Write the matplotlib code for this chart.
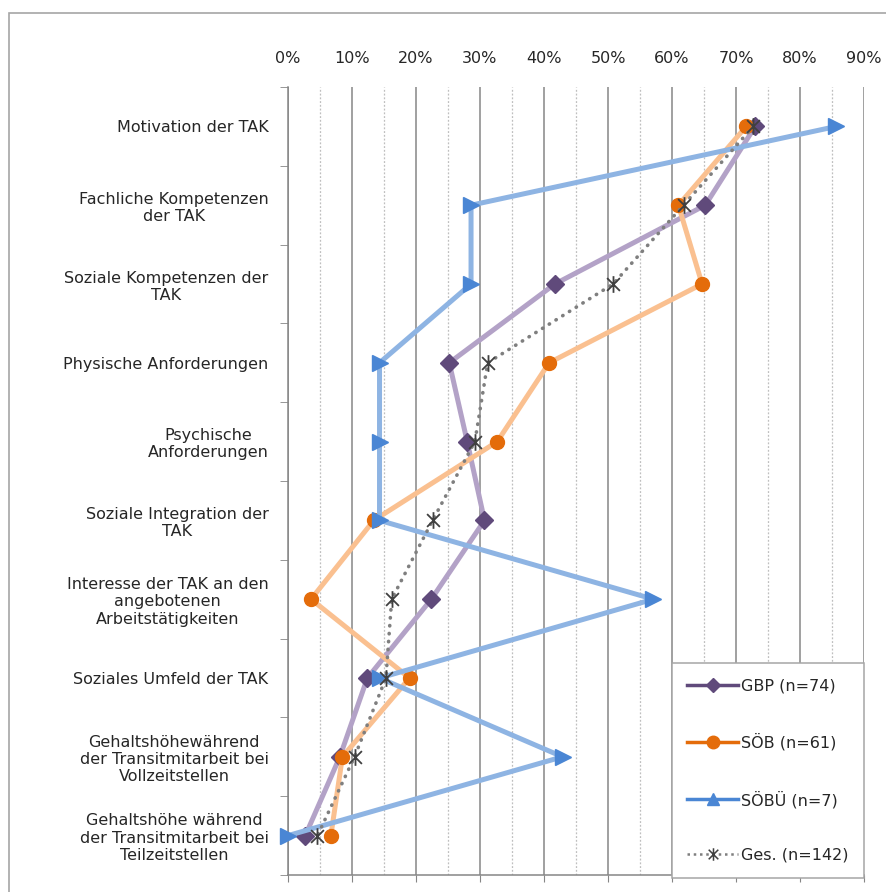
import matplotlib.pyplot as plt
from matplotlib.lines import Line2D
from matplotlib.patches import Rectangle
from matplotlib.path import Path

plt.rcParams['font.family'] = ['DejaVu Sans']

categories = ['Motivation der TAK',
              'Fachliche Kompetenzen\nder TAK',
              'Soziale Kompetenzen der\nTAK',
              'Physische Anforderungen',
              'Psychische\nAnforderungen',
              'Soziale Integration der\nTAK',
              'Interesse der TAK an den\nangebotenen\nArbeitstätigkeiten',
              'Soziales Umfeld der TAK',
              'Gehaltshöhewährend\nder Transitmitarbeit bei\nVollzeitstellen',
              'Gehaltshöhe während\nder Transitmitarbeit bei\nTeilzeitstellen']

# Anteile in %
gbp = [73.0, 65.2, 41.7, 25.2, 28.0, 30.7, 22.4, 12.4, 8.1, 2.7]
soeb = [71.6, 61.0, 64.7, 40.8, 32.7, 13.4, 3.6, 19.0, 8.5, 6.7]
soebue = [85.7, 28.6, 28.6, 14.3, 14.3, 14.3, 57.1, 14.3, 42.9, 0.0]
ges = [72.7, 61.8, 50.8, 31.2, 29.2, 22.6, 16.2, 15.3, 10.4, 4.6]

series_labels = ['GBP (n=74)', 'SÖB (n=61)', 'SÖBÜ (n=7)', 'Ges. (n=142)']
x_ticks = [0, 10, 20, 30, 40, 50, 60, 70, 80, 90]

# Excel-Stern: X + senkrechter Strich
star = Path([(-1, -1), (1, 1), (-1, 1), (1, -1), (0, -1.3), (0, 1.3)],
            [Path.MOVETO, Path.LINETO, Path.MOVETO, Path.LINETO, Path.MOVETO, Path.LINETO])

fig = plt.figure(figsize=(8.87, 8.92), dpi=100)
ax = fig.add_axes([288/887, 1-875/892, 576/887, 788/892])

pos = list(range(len(categories)))
txt_col = '#262626'

# Linien (hell) + Marker (dunkel)
ax.plot(gbp, pos, color='#B3A2C7', lw=3.6, marker='D', ms=9.5,
        mfc='#604A7B', mec='#604A7B', clip_on=False, zorder=3)
ax.plot(soeb, pos, color='#FAC090', lw=3.6, marker='o', ms=10,
        mfc='#E46C0A', mec='#E46C0A', clip_on=False, zorder=4)
ax.plot(soebue, pos, color='#8EB4E3', lw=3.6, marker='>', ms=12,
        mfc='#4A86D4', mec='#4A86D4', clip_on=False, zorder=5)
ax.plot(ges, pos, color='#7F7F7F', lw=2.6, ls=(0, (0.1, 2.1)), dash_capstyle='round',
        marker=star, ms=12, mfc='none', mec='#404040', mew=1.3, clip_on=False, zorder=6)

ax.set_xlim(0, 90)
ax.set_ylim(9.5, -0.5)

ax.set_xticks(x_ticks)
ax.set_xticklabels([f'{v}%' for v in x_ticks])
ax.set_xticks([5, 15, 25, 35, 45, 55, 65, 75, 85], minor=True)
ax.tick_params(axis='x', which='major', bottom=True, top=False, labelbottom=False,
               labeltop=True, length=5, color='#868686', labelsize=11.5,
               labelcolor=txt_col, pad=10)
ax.tick_params(axis='x', which='minor', bottom=False, top=False)
ax.grid(axis='x', which='major', color='#868686', lw=1.1)
ax.grid(axis='x', which='minor', color='#BFBFBF', lw=0.9, ls=(0, (1.5, 1.5)))
ax.set_axisbelow(True)

ax.set_yticks(pos)
ax.set_yticklabels(categories, multialignment='center')
ax.set_yticks([p + 0.5 for p in [-1] + pos], minor=True)
ax.tick_params(axis='y', which='major', length=0, labelsize=11.5, labelcolor=txt_col, pad=14)
ax.tick_params(axis='y', which='minor', length=6, color='#868686')

for s in ['top', 'right']:
    ax.spines[s].set_visible(False)
for s in ['left', 'bottom']:
    ax.spines[s].set_color('#868686')
    ax.spines[s].set_linewidth(1.1)

handles = [
    Line2D([], [], color='#604A7B', lw=2.5, marker='D', ms=7, mfc='#604A7B', mec='#604A7B'),
    Line2D([], [], color='#E46C0A', lw=2.5, marker='o', ms=9, mfc='#E46C0A', mec='#E46C0A'),
    Line2D([], [], color='#4A86D4', lw=2.5, marker='^', ms=9, mfc='#4A86D4', mec='#4A86D4'),
    Line2D([], [], color='#7F7F7F', lw=1.8, ls=(0, (1, 1.5)), marker=star, ms=9,
           mfc='none', mec='#404040', mew=1.1),
]
leg = ax.legend(handles, series_labels, loc='lower right', bbox_to_anchor=(1.0, -0.004),
                fontsize=11.5, frameon=True, fancybox=False, framealpha=1,
                edgecolor='#A6A6A6', labelspacing=2.5, handlelength=3.2,
                handletextpad=0.2, borderpad=0.95, borderaxespad=0)
leg.get_frame().set_linewidth(1.1)
for t in leg.get_texts():
    t.set_color(txt_col)
leg.set_zorder(10)

# Rahmen um das Diagramm
fig.patches.append(Rectangle((9/887, -0.01), 1.0, 1-13/892+0.01, transform=fig.transFigure,
                             fill=False, edgecolor='#A6A6A6', lw=1.2))

plt.savefig('out.png', dpi=100)
